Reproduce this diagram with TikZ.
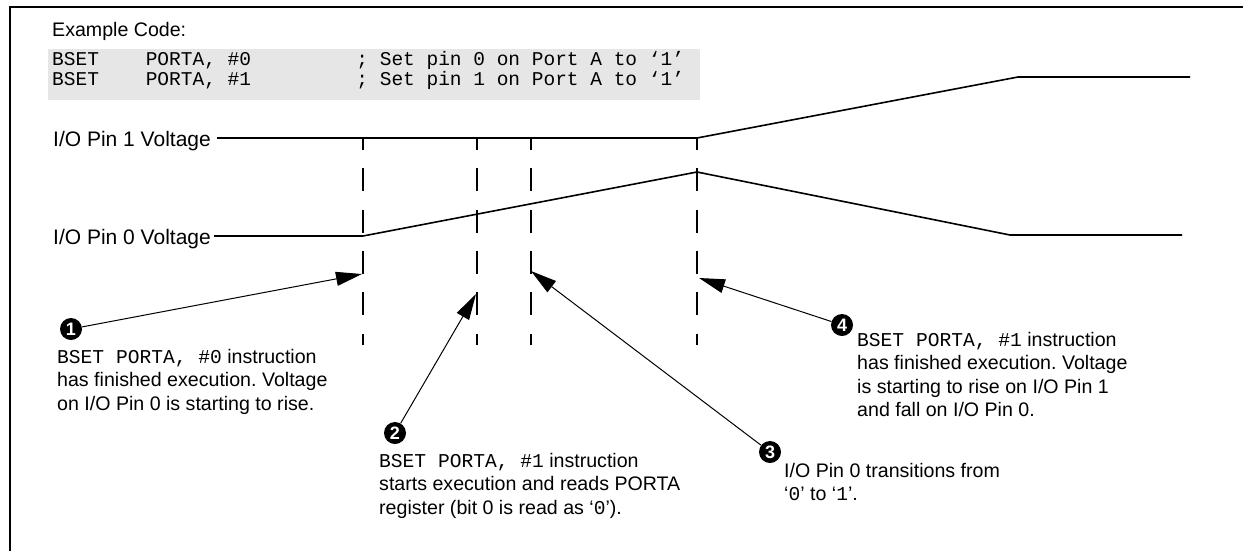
\documentclass[tikz,border=0pt]{standalone}
\usepackage{fontspec}
\setmainfont{Liberation Sans}
\setmonofont{Liberation Mono}
\usetikzlibrary{arrows.meta}
\definecolor{codegray}{HTML}{E6E6E6}
\newcommand\codett[1]{{\ttfamily #1}}
\frenchspacing
\begin{document}
\begin{tikzpicture}[x=1pt,y=-1pt,
  txt/.style={font=\fontsize{19.6}{23.5}\selectfont, inner sep=0pt, align=left},
  lbl/.style={font=\fontsize{21}{24}\selectfont, inner sep=0pt},
  codeline/.style={font=\fontsize{19.5}{20}\selectfont\ttfamily, inner sep=0pt},
  sig/.style={line width=1.6pt},
  guide/.style={line width=2pt, dash pattern=on 23pt off 18.3pt, dash phase=11pt},
  pointer/.style={line width=1pt, -{Triangle[length=26pt,width=14pt]}},
  badge/.style={circle, fill=black, text=white, inner sep=0pt, minimum size=22pt,
    font=\fontsize{18}{18}\selectfont\bfseries},
  frameline/.style={line width=2.6pt}]
\useasboundingbox (0,0) rectangle (1243,550);

% frame
\coordinate (fbl) at (10,552);
\coordinate (ftl) at (10,7);
\coordinate (ftr) at (1245,7);
\draw[frameline] (fbl) -- (ftl) -- (ftr);

% code example
\node[txt, anchor=base west] (ex) at (52,36) {Example Code:};
\node[fill=codegray, inner sep=0pt, minimum width=652pt, minimum height=51pt, anchor=north west] (codebox) at (48,49) {};
\node[codeline, anchor=base west] (code1) at (52,65)
  {\makebox[93.6pt][l]{BSET}\makebox[210.6pt][l]{PORTA, \#0}; Set pin 0 on Port A to ‘1’};
\node[codeline, anchor=base west] (code2) at (52,85)
  {\makebox[93.6pt][l]{BSET}\makebox[210.6pt][l]{PORTA, \#1}; Set pin 1 on Port A to ‘1’};

% signal labels
\node[lbl, anchor=base west] (lbl1) at (53,146) {I/O Pin 1 Voltage};
\node[lbl, anchor=base west] (lbl0) at (53,244) {I/O Pin 0 Voltage};

% waveforms
\coordinate (p1s) at (217,138);
\coordinate (p1k) at (697,138);
\coordinate (p1t) at (1018,77);
\coordinate (p1e) at (1190,77);
\draw[sig] (p1s) -- (p1k) -- (p1t) -- (p1e);

\coordinate (p0s) at (214,236);
\coordinate (p0k) at (363,236);
\coordinate (p0p) at (697,172);
\coordinate (p0b) at (1010,235);
\coordinate (p0e) at (1182,235);
\draw[sig] (p0s) -- (p0k) -- (p0p) -- (p0b) -- (p0e);

% dashed guides
\foreach \n/\x in {1/363,2/477,3/531,4/697}{
  \coordinate (g\n t) at (\x,138);
  \coordinate (g\n b) at (\x,345);
  \draw[guide] (g\n t) -- (g\n b);
}

% arrow tips
\coordinate (t1) at (362,274);
\coordinate (t2) at (476,294);
\coordinate (t3) at (531,271);
\coordinate (t4) at (699,278);

% badges
\node[badge] (c1) at (71,329) {1};
\node[badge] (c2) at (395,433) {2};
\node[badge] (c3) at (770,452) {3};
\node[badge] (c4) at (842,325) {4};

\draw[pointer] (c1) -- (t1);
\draw[pointer] (c2) -- (t2);
\draw[pointer] (c3) -- (t3);
\draw[pointer] (c4) -- (t4);

% notes (base anchor = baseline of the last line)
\node[txt, anchor=base west] (n1) at (57,410)
  {\codett{BSET PORTA, \#0} instruction\\has finished execution. Voltage\\on I/O Pin 0 is starting to rise.};
\node[txt, anchor=base west] (n2) at (379,514)
  {\codett{BSET PORTA, \#1} instruction\\starts execution and reads PORTA\\register (bit 0 is read as ‘\codett{0}’).};
\node[txt, anchor=base west] (n3) at (784,500.5)
  {I/O Pin 0 transitions from\\‘\codett{0}’ to ‘\codett{1}’.};
\node[txt, anchor=base west] (n4) at (857,416.5)
  {\codett{BSET PORTA, \#1} instruction\\has finished execution. Voltage\\is starting to rise on I/O Pin 1\\and fall on I/O Pin 0.};
\end{tikzpicture}
\end{document}
